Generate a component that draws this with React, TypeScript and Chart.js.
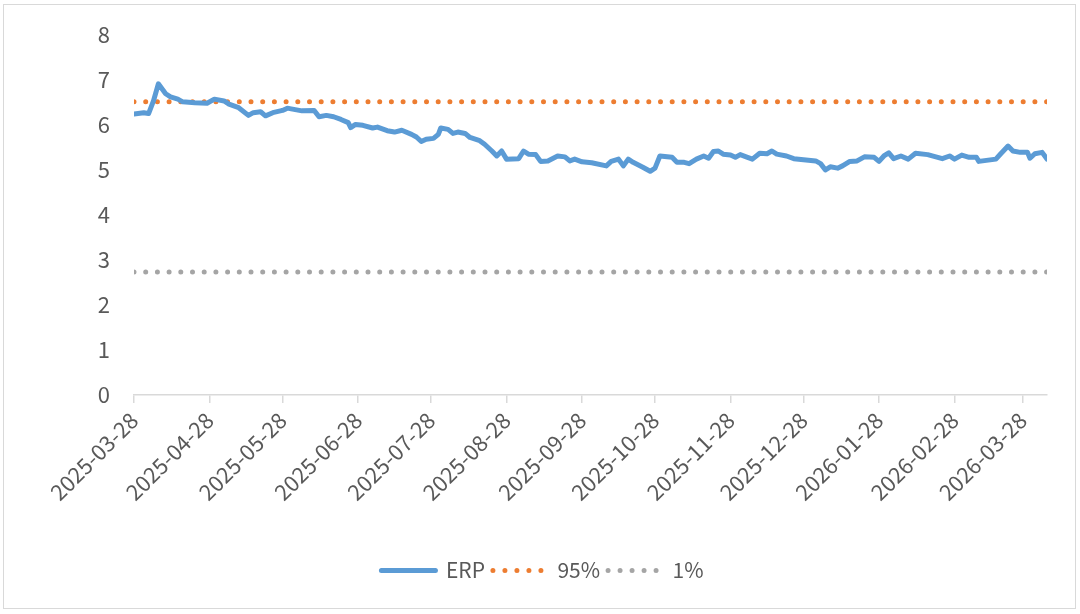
import React, { useEffect, useRef } from 'react';
import { Chart, registerables } from 'chart.js';

Chart.register(...registerables);

// Day offsets are counted from the first date (2025-03-28)
const startDate = '2025-03-28';
const tickLabels = [
  '2025-03-28', '2025-04-28', '2025-05-28', '2025-06-28', '2025-07-28', '2025-08-28',
  '2025-09-28', '2025-10-28', '2025-11-28', '2025-12-28', '2026-01-28', '2026-02-28', '2026-03-28',
];
const lastDay = 375;

const erpDays = [
  0, 4, 6, 8, 10, 13, 15, 18, 20, 25, 30, 33, 37, 39, 43, 47, 49, 52, 54, 57, 61, 63, 64, 69, 74, 76, 79, 82, 85,
  88, 89, 91, 94, 98, 100, 104, 107, 110, 114, 116, 118, 120, 123, 125, 126, 129, 131, 133, 136, 138, 142, 144,
  147, 149, 151, 153, 158, 160, 162, 165, 167, 170, 174, 177, 179, 181, 184, 188, 194, 196, 199, 201, 203, 205,
  209, 212, 214, 216, 221, 223, 226, 228, 231, 234, 236, 238, 240, 242, 245, 247, 249, 252, 254, 257, 260, 262,
  264, 268, 271, 276, 280, 282, 284, 286, 289, 291, 294, 297, 300, 304, 306, 308, 310, 312, 315, 318, 321, 326,
  332, 335, 337, 340, 343, 346, 347, 354, 356, 359, 361, 364, 367, 368, 370, 373, 375,
];
const erpValues = [
  6.23, 6.26, 6.24, 6.52, 6.9, 6.68, 6.61, 6.56, 6.5, 6.48, 6.47, 6.56, 6.52, 6.45, 6.37, 6.2, 6.26, 6.28, 6.19,
  6.26, 6.31, 6.36, 6.35, 6.3, 6.31, 6.17, 6.2, 6.17, 6.11, 6.04, 5.93, 6.0, 5.98, 5.92, 5.94, 5.86, 5.83, 5.87,
  5.78, 5.72, 5.62, 5.67, 5.69, 5.78, 5.92, 5.89, 5.8, 5.83, 5.8, 5.71, 5.64, 5.56, 5.41, 5.3, 5.41, 5.23, 5.24,
  5.41, 5.34, 5.33, 5.18, 5.19, 5.3, 5.28, 5.19, 5.23, 5.17, 5.15, 5.08, 5.18, 5.23, 5.08, 5.23, 5.16, 5.05, 4.96,
  5.03, 5.3, 5.27, 5.16, 5.16, 5.13, 5.23, 5.3, 5.25, 5.4, 5.41, 5.34, 5.32, 5.27, 5.33, 5.27, 5.23, 5.36, 5.35,
  5.41, 5.34, 5.3, 5.24, 5.21, 5.19, 5.13, 4.99, 5.06, 5.03, 5.08, 5.18, 5.19, 5.28, 5.27, 5.18, 5.3, 5.37, 5.24,
  5.3, 5.23, 5.36, 5.33, 5.24, 5.3, 5.23, 5.32, 5.27, 5.27, 5.18, 5.23, 5.35, 5.52, 5.41, 5.38, 5.38, 5.25, 5.35,
  5.38, 5.23,
];
const p95Value = 6.5;
const p1Value = 2.73;
const seriesNames = ['ERP', '95%', '1%'];
const seriesColors = ['#5B9BD5', '#ED7D31', '#A5A5A5'];

const FONT = '"Noto Sans CJK SC", "Noto Sans", sans-serif';
const TEXT = '#595959';

function dayOffset(s: string): number {
  const [y, m, d] = s.split('-').map(Number);
  const [y0, m0, d0] = startDate.split('-').map(Number);
  return Math.round((Date.UTC(y, m - 1, d) - Date.UTC(y0, m0 - 1, d0)) / 86400000);
}

export default function App() {
  const ref = useRef<HTMLCanvasElement | null>(null);

  useEffect(() => {
    document.body.style.margin = '0';
    const tickDays = tickLabels.map(dayOffset);
    const chart = new Chart(ref.current as HTMLCanvasElement, {
      type: 'line',
      data: {
        datasets: [
          {
            label: seriesNames[0],
            data: erpDays.map((d, i) => ({ x: d, y: erpValues[i] })),
            borderColor: seriesColors[0],
            backgroundColor: seriesColors[0],
            borderWidth: 5,
            borderJoinStyle: 'round',
            borderCapStyle: 'round',
            pointRadius: 0,
            tension: 0,
            order: 0,
          },
          {
            label: seriesNames[1],
            data: [{ x: 0, y: p95Value }, { x: lastDay, y: p95Value }],
            borderColor: seriesColors[1],
            backgroundColor: seriesColors[1],
            borderWidth: 5,
            borderDash: [0, 11.7],
            borderCapStyle: 'round',
            pointRadius: 0,
            order: 1,
          },
          {
            label: seriesNames[2],
            data: [{ x: 0, y: p1Value }, { x: lastDay, y: p1Value }],
            borderColor: seriesColors[2],
            backgroundColor: seriesColors[2],
            borderWidth: 5,
            borderDash: [0, 11.7],
            borderCapStyle: 'round',
            pointRadius: 0,
            order: 2,
          },
        ],
      },
      options: {
        animation: false,
        responsive: false,
        layout: { padding: { top: 14, right: 28, bottom: 17, left: 34 } },
        plugins: {
          tooltip: { enabled: false },
          legend: {
            position: 'bottom',
            labels: {
              font: { family: FONT, size: 21 },
              color: TEXT,
              usePointStyle: true,
              pointStyleWidth: 54,
              boxWidth: 54,
              padding: 8,
              generateLabels: () =>
                seriesNames.map((name, i) => ({
                  text: name,
                  fillStyle: seriesColors[i],
                  strokeStyle: seriesColors[i],
                  lineWidth: 5,
                  lineCap: 'round',
                  lineDash: i === 0 ? [] : [0, 12],
                  pointStyle: 'line',
                  datasetIndex: i,
                  fontColor: TEXT,
                  hidden: false,
                })),
            },
          },
        },
        scales: {
          x: {
            type: 'linear',
            min: 0,
            max: lastDay,
            afterBuildTicks: (scale: any) => {
              scale.ticks = tickDays.map((v) => ({ value: v }));
            },
            afterFit: (scale: any) => {
              scale.height = 157;
            },
            ticks: {
              autoSkip: false,
              maxRotation: 45,
              minRotation: 45,
              padding: 4,
              font: { family: FONT, size: 22 },
              color: TEXT,
              callback: (v: any) => tickLabels[tickDays.indexOf(Number(v))] ?? '',
            },
            grid: { drawOnChartArea: false, drawTicks: true, tickLength: 8, color: '#D9D9D9', lineWidth: 1.5 },
            border: { display: true, color: '#D9D9D9', width: 1.5 },
          },
          y: {
            min: 0,
            max: 8,
            ticks: {
              stepSize: 1,
              padding: 16,
              font: { family: FONT, size: 22 },
              color: TEXT,
            },
            afterFit: (scale: any) => {
              scale.width = 96;
            },
            grid: { display: false },
            border: { display: false },
          },
        },
      },
    });
    return () => chart.destroy();
  }, []);

  return (
    <div
      style={{
        position: 'absolute',
        left: 3,
        top: 4,
        width: 1073,
        height: 605,
        boxSizing: 'border-box',
        border: '1px solid #D9D9D9',
        background: '#fff',
      }}
    >
      <canvas ref={ref} width={1071} height={603} style={{ display: 'block' }} />
    </div>
  );
}
